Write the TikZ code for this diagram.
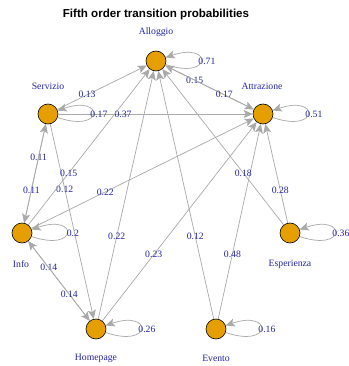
\documentclass[tikz,border=0pt]{standalone}
\usepackage{fontspec}
\setmainfont{Liberation Serif}
\newfontfamily\titlefont{Liberation Sans}
\usetikzlibrary{arrows.meta}
\definecolor{nodeorange}{HTML}{E69F00}
\definecolor{edgegray}{HTML}{A9A9A9}
\definecolor{lblue}{HTML}{2424A4}
\begin{document}
\begin{tikzpicture}[x=1pt,y=-1pt,
  state/.style={circle, draw=black, line width=0.6pt, fill=nodeorange, minimum size=20pt, inner sep=0pt},
  vname/.style={text=lblue, font=\fontsize{9.7}{11}\selectfont, inner sep=0pt},
  elabel/.style={text=lblue, font=\fontsize{9.7}{11}\selectfont, inner sep=0pt},
  edge/.style={draw=edgegray, line width=0.7pt, -{Stealth[length=9pt,width=8pt,inset=2pt,fill=edgegray]}},
  selfloop/.style={edge}
]
\useasboundingbox (0,0) rectangle (348,366);
\fill[white] (0,0) rectangle (348,366);

\node[font=\titlefont\bfseries\fontsize{11.6}{13}\selectfont, text=black] (title) at (156,15) {Fifth order transition probabilities};

% vertices
\node[state] (Al) at (156,61) {};
\node[state] (At) at (263,114) {};
\node[state] (Se) at (48,114) {};
\node[state] (In) at (22,233) {};
\node[state] (Es) at (290,233) {};
\node[state] (Ho) at (96,329) {};
\node[state] (Ev) at (216,329) {};

% vertex names
\node[vname] (AlN) at (156,32) {Alloggio};
\node[vname] (AtN) at (262,86) {Attrazione};
\node[vname] (SeN) at (48,86) {Servizio};
\node[vname] (InN) at (21,264) {Info};
\node[vname] (EsN) at (290,264) {Esperienza};
\node[vname] (HoN) at (96,358) {Homepage};
\node[vname] (EvN) at (216,358) {Evento};

% edges
\draw[edge] (Al) -- node[elabel,pos=0.333]{0.15} (At);
\draw[edge] (At) -- node[elabel,pos=0.333]{0.17} (Al);
\draw[edge] (Se) -- node[elabel,pos=0.333]{0.13} (Al);
\draw[edge] (Se) -- node[elabel,pos=0.333]{0.37} (At);
\draw[edge] (Se) -- node[elabel,pos=0.333]{0.11} (In);
\draw[edge] (In) -- node[elabel,pos=0.333]{0.11} (Se);
\draw[edge] (Se) -- node[elabel,pos=0.333]{0.12} (Ho);
\draw[edge] (In) -- node[elabel,pos=0.333]{0.15} (Al);
\draw[edge] (In) -- node[elabel,pos=0.333]{0.22} (At);
\draw[edge] (In) -- node[elabel,pos=0.333]{0.14} (Ho);
\draw[edge] (Ho) -- node[elabel,pos=0.333]{0.14} (In);
\draw[edge] (Ho) -- node[elabel,pos=0.333]{0.22} (Al);
\draw[edge] (Ho) -- node[elabel,pos=0.333]{0.23} (At);
\draw[edge] (Ev) -- node[elabel,pos=0.333]{0.12} (Al);
\draw[edge] (Ev) -- node[elabel,pos=0.333]{0.48} (At);
\draw[edge] (Es) -- node[elabel,pos=0.333]{0.18} (Al);
\draw[edge] (Es) -- node[elabel,pos=0.333]{0.28} (At);

% self loops
\foreach \v/\p in {Al/0.71, At/0.51, Se/0.17, In/0.2, Es/0.36, Ho/0.26, Ev/0.16}{
  \draw[selfloop] (\v.-20) .. controls +(47,16) and +(47,-16) .. (\v.20)
    node[elabel,pos=0.5,xshift=6pt]{\p};
}
\end{tikzpicture}
\end{document}
